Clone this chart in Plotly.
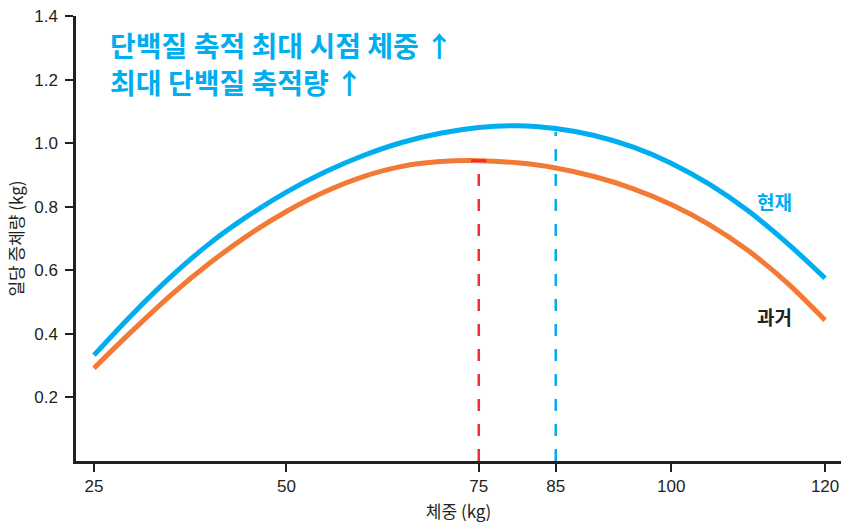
import plotly.graph_objects as go

# Body weight (kg)
weight = [25, 30, 35, 40, 45, 50, 55, 60, 65, 70, 75, 80, 85, 90, 95, 100, 105, 110, 115, 120]

# Daily gain (kg/day)
gain_now = [0.333, 0.462, 0.58, 0.684, 0.771, 0.846, 0.909, 0.961, 1.002, 1.031, 1.049, 1.055,
            1.046, 1.024, 0.988, 0.937, 0.87, 0.787, 0.687, 0.575]
gain_past = [0.292, 0.41, 0.522, 0.622, 0.71, 0.785, 0.847, 0.895, 0.927, 0.942, 0.945, 0.938,
             0.922, 0.895, 0.857, 0.807, 0.743, 0.662, 0.562, 0.443]

x_ticks = [25, 50, 75, 85, 100, 120]
y_ticks = [0.2, 0.4, 0.6, 0.8, 1.0, 1.2, 1.4]

title_lines = ["단백질 축적 최대 시점 체중 ↑", "최대 단백질 축적량 ↑"]
series_labels = ["현재", "과거"]
x_title = "체중 (kg)"
y_title = "일당 증체량 (kg)"

BLUE = "#00aeef"
ORANGE = "#f37a35"
RED = "#ee2d3a"
INK = "#231f20"

# Peak of the past curve and the current curve at 85 kg
past_peak_idx = gain_past.index(max(gain_past))
past_peak_x = weight[past_peak_idx]
past_peak_y = gain_past[past_peak_idx]
now_mark_x = 85
now_mark_y = gain_now[weight.index(now_mark_x)]

fig = go.Figure()

fig.add_trace(go.Scatter(x=weight, y=gain_now, mode="lines",
                         line=dict(color=BLUE, width=5, shape="spline", smoothing=1.0),
                         hoverinfo="skip", showlegend=False))
fig.add_trace(go.Scatter(x=weight, y=gain_past, mode="lines",
                         line=dict(color=ORANGE, width=5, shape="spline", smoothing=1.0),
                         hoverinfo="skip", showlegend=False))

# Dashed drop lines with a small cap at the top
fig.add_trace(go.Scatter(x=[past_peak_x, past_peak_x], y=[0, past_peak_y], mode="lines",
                         line=dict(color=RED, width=2.5, dash="12px,13px"),
                         hoverinfo="skip", showlegend=False))
fig.add_trace(go.Scatter(x=[past_peak_x - 1, past_peak_x + 1], y=[past_peak_y, past_peak_y],
                         mode="lines", line=dict(color=RED, width=3),
                         hoverinfo="skip", showlegend=False))
fig.add_trace(go.Scatter(x=[now_mark_x, now_mark_x], y=[0, now_mark_y - 0.01], mode="lines",
                         line=dict(color=BLUE, width=2.5, dash="12px,13px"),
                         hoverinfo="skip", showlegend=False))

annotations = [
    dict(x=0.042, y=0.934, xref="paper", yref="paper", text="<b>%s</b>" % title_lines[0],
         showarrow=False, xanchor="left", yanchor="middle",
         font=dict(family="Noto Sans CJK KR", size=28, color=BLUE)),
    dict(x=0.042, y=0.852, xref="paper", yref="paper", text="<b>%s</b>" % title_lines[1],
         showarrow=False, xanchor="left", yanchor="middle",
         font=dict(family="Noto Sans CJK KR", size=28, color=BLUE)),
    dict(x=113.4, y=0.815, xref="x", yref="y", text="<b>%s</b>" % series_labels[0],
         showarrow=False, xanchor="center", yanchor="middle",
         font=dict(family="Noto Sans CJK KR", size=19, color=BLUE)),
    dict(x=113.4, y=0.455, xref="x", yref="y", text="<b>%s</b>" % series_labels[1],
         showarrow=False, xanchor="center", yanchor="middle",
         font=dict(family="Noto Sans CJK KR", size=19, color=INK)),
]

fig.update_layout(
    width=841, height=523,
    margin=dict(l=76, r=0, t=16, b=62),
    plot_bgcolor="white", paper_bgcolor="white",
    font=dict(family="Liberation Sans, Noto Sans CJK KR", size=17, color=INK),
    annotations=annotations,
    showlegend=False,
)

fig.update_xaxes(
    range=[22.66, 122.07], tickvals=x_ticks, ticktext=[str(v) for v in x_ticks],
    showline=True, linecolor=INK, linewidth=2.5, ticks="outside", ticklen=8, tickwidth=2,
    tickcolor=INK, showgrid=False, zeroline=False,
    title=dict(text=x_title, standoff=11,
               font=dict(family="Noto Sans CJK KR", size=17, color=INK)),
)
fig.update_yaxes(
    range=[0, 1.4], tickvals=y_ticks, ticktext=["%.1f" % v for v in y_ticks],
    showline=True, linecolor=INK, linewidth=2.5, ticks="outside", ticklen=8, tickwidth=2,
    tickcolor=INK, showgrid=False, zeroline=False, ticklabelstandoff=4,
    title=dict(text=y_title, standoff=7,
               font=dict(family="Noto Sans CJK KR", size=17, color=INK)),
)

fig.write_html("out.html")
